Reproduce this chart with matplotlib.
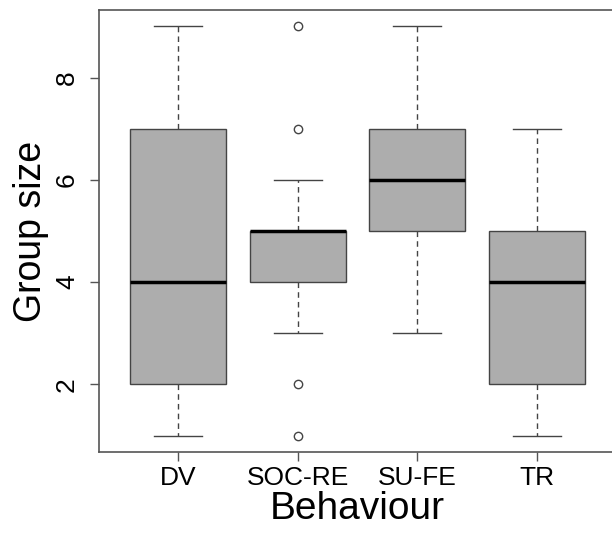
import matplotlib
matplotlib.use("Agg")
import matplotlib.pyplot as plt

plt.rcParams["font.family"] = ["Liberation Sans", "DejaVu Sans"]

# values (R-style, whiskers to range within 1.5 IQR)
behaviours = ["DV", "SOC-RE", "SU-FE", "TR"]
whislo = [1, 3, 3, 1]
q1 = [2, 4, 5, 2]
med = [4, 5, 6, 4]
q3 = [7, 5, 7, 5]
whishi = [9, 6, 9, 7]
fliers = [[], [9, 7, 2, 1], [], []]

stats = [dict(label=b, whislo=lo, q1=a, med=m, q3=c, whishi=hi, fliers=f)
         for b, lo, a, m, c, hi, f in zip(behaviours, whislo, q1, med, q3, whishi, fliers)]

fig = plt.figure(figsize=(6.12, 5.45), dpi=100)
ax = fig.add_axes([0.1618, 0.1706, 0.8448, 0.8111])

edge = "#444444"
ax.bxp(stats, positions=range(1, 5), widths=0.8, patch_artist=True,
       boxprops=dict(facecolor="#adadad", edgecolor=edge, linewidth=1.0),
       medianprops=dict(color="black", linewidth=2.5, solid_capstyle="butt"),
       whiskerprops=dict(color=edge, linewidth=1.0, linestyle=(0, (4, 3))),
       capprops=dict(color=edge, linewidth=1.0),
       capwidths=0.4,
       flierprops=dict(marker="o", markersize=6, markerfacecolor="white",
                       markeredgecolor=edge, markeredgewidth=1.0))

ax.set_xlim(0.34, 4.66)
ax.set_ylim(0.68, 9.32)
ax.set_yticks([2, 4, 6, 8])
ax.set_xticks(range(1, 5))
ax.set_xticklabels(behaviours)

for s in ax.spines.values():
    s.set_color("#555555")
    s.set_linewidth(1.2)

ax.tick_params(axis="both", length=6.5, width=1.0, color="#555555", labelsize=19)
ax.tick_params(axis="x", pad=3.5)
ax.tick_params(axis="y", pad=8)
for t in ax.get_yticklabels():
    t.set_rotation(90)
    t.set_va("center")

ax.set_xlabel("Behaviour", fontsize=28)
ax.xaxis.set_label_coords(0.5, -0.088)
ax.set_ylabel("Group size", fontsize=27)
ax.yaxis.set_label_coords(-0.132, 0.5)
ax.yaxis.label.set_va("center")

fig.savefig("out.png", dpi=100)
